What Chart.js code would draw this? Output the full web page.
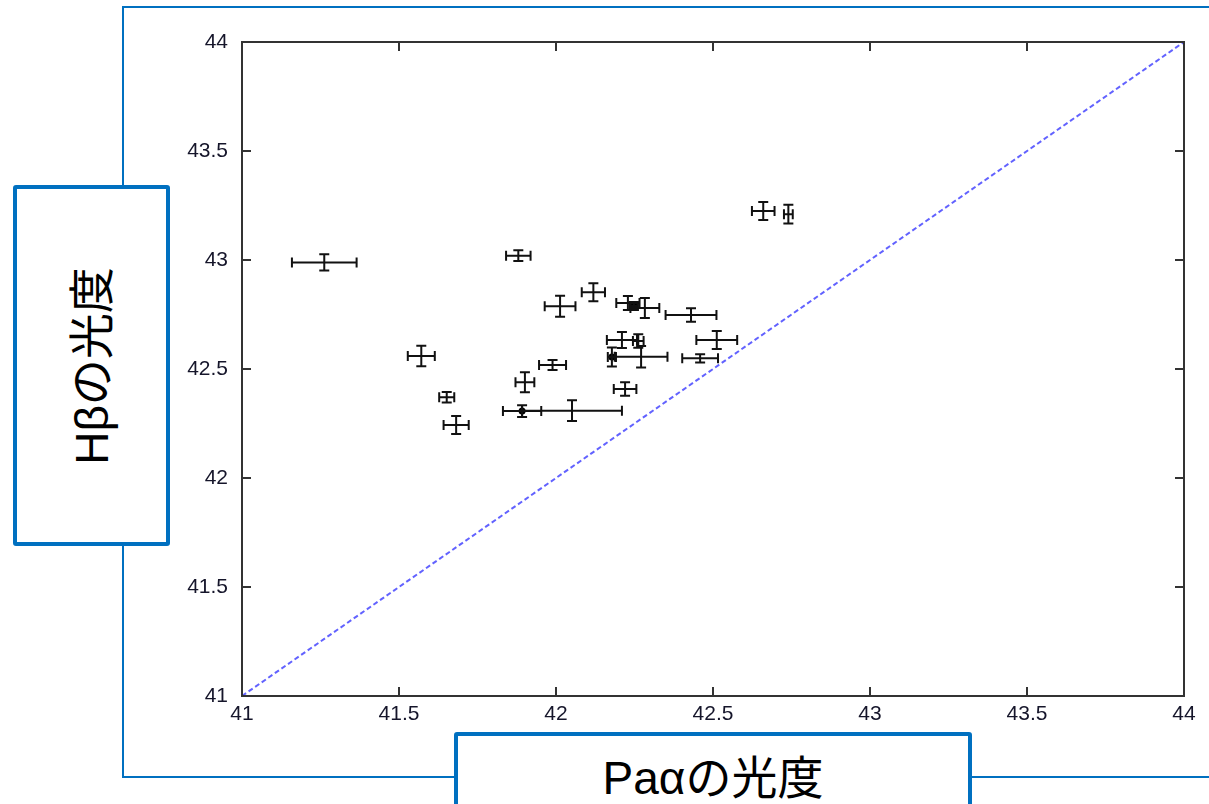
<!DOCTYPE html>
<html>
<head>
<meta charset="utf-8">
<script src="https://cdn.jsdelivr.net/npm/chart.js@4.4.1/dist/chart.umd.min.js"></script>
<style>
  html, body { margin: 0; padding: 0; background: #fff; }
  body { width: 1209px; height: 804px; overflow: hidden; position: relative; }
  #frame {
    position: absolute; left: 122px; top: 6px; width: 1200px; height: 768px;
    border: 2px solid #0070c0;
  }
  #chart { position: absolute; left: 0; top: 0; }
  .labelBox {
    position: absolute; box-sizing: border-box; background: #fff;
    border: 4px solid #0070c0; border-radius: 3px;
    font-family: "Liberation Sans", "Noto Sans CJK JP", sans-serif;
    font-size: 46px; color: #000;
  }
  #yLabel { left: 13px; top: 185px; width: 157px; height: 361px; }
  #yLabel span {
    position: absolute; left: 50%; top: 50%; white-space: nowrap;
    line-height: 46px; transform: translate(-50%, -50%) rotate(-90deg);
  }
  #xLabel { left: 454px; top: 732px; width: 518px; height: 120px; }
  #xLabel span {
    position: absolute; left: 0; right: 0; top: 19px; text-align: center;
    line-height: 46px; white-space: nowrap;
  }
</style>
</head>
<body>
<div id="frame"></div>
<canvas id="chart" width="1209" height="804"></canvas>
<div class="labelBox" id="yLabel"><span>Hβの光度</span></div>
<div class="labelBox" id="xLabel"><span>Paαの光度</span></div>

<script>
// Paα luminosity (x), Hβ luminosity (y) and their errors
const paAlpha  = [41.262, 41.880, 42.013, 41.571, 41.989, 41.901, 41.652, 41.682,
                  41.892, 42.051, 42.119, 42.229, 42.248, 42.283, 42.430, 42.210,
                  42.262, 42.512, 42.178, 42.271, 42.459, 42.220, 42.660, 42.740];
const hBeta    = [42.989, 43.020, 42.788, 42.560, 42.518, 42.439, 42.370, 42.243,
                  42.307, 42.309, 42.852, 42.803, 42.789, 42.780, 42.748, 42.633,
                  42.628, 42.633, 42.555, 42.556, 42.549, 42.408, 43.225, 43.210];
const paAlphaErr = [0.103, 0.039, 0.049, 0.043, 0.043, 0.030, 0.024, 0.040,
                    0.061, 0.159, 0.037, 0.037, 0.013, 0.046, 0.081, 0.048,
                    0.017, 0.065, 0.013, 0.084, 0.057, 0.036, 0.036, 0.014];
const hBetaErr   = [0.037, 0.025, 0.048, 0.047, 0.023, 0.046, 0.024, 0.041,
                    0.027, 0.048, 0.041, 0.032, 0.018, 0.046, 0.031, 0.037,
                    0.031, 0.041, 0.044, 0.049, 0.019, 0.031, 0.041, 0.043];
// points drawn with a solid marker
const filledPoints = [8, 12, 18];

// y = x reference line
const diagonal = [41, 44];

// axis range / ticks
const axisMin = 41;
const axisMax = 44;
const tickStep = 0.5;

const points = paAlpha.map((x, i) => ({ x: x, y: hBeta[i] }));

// Error bars through the scales
const errorBarPlugin = {
    id: 'errorBars',
    afterDatasetsDraw(chart) {
        const xs = chart.scales.x, ys = chart.scales.y;
        const ctx = chart.ctx;
        const cap = 5;
        ctx.save();
        ctx.strokeStyle = '#111';
        ctx.lineWidth = 2;
        paAlpha.forEach((xv, i) => {
            const px = xs.getPixelForValue(xv);
            const py = ys.getPixelForValue(hBeta[i]);
            const x0 = xs.getPixelForValue(xv - paAlphaErr[i]);
            const x1 = xs.getPixelForValue(xv + paAlphaErr[i]);
            const y0 = ys.getPixelForValue(hBeta[i] - hBetaErr[i]);
            const y1 = ys.getPixelForValue(hBeta[i] + hBetaErr[i]);
            ctx.beginPath();
            ctx.moveTo(x0, py); ctx.lineTo(x1, py);
            ctx.moveTo(x0, py - cap); ctx.lineTo(x0, py + cap);
            ctx.moveTo(x1, py - cap); ctx.lineTo(x1, py + cap);
            ctx.moveTo(px, y0); ctx.lineTo(px, y1);
            ctx.moveTo(px - cap, y0); ctx.lineTo(px + cap, y0);
            ctx.moveTo(px - cap, y1); ctx.lineTo(px + cap, y1);
            ctx.stroke();
        });
        ctx.restore();
    }
};

// gnuplot-like frame with inward ticks on all four sides
const framePlugin = {
    id: 'frameTicks',
    afterDraw(chart) {
        const { left, right, top, bottom } = chart.chartArea;
        const ctx = chart.ctx;
        const len = 9;
        ctx.save();
        ctx.strokeStyle = '#333';
        ctx.lineWidth = 2;
        ctx.strokeRect(left, top, right - left, bottom - top);
        ctx.beginPath();
        chart.scales.x.ticks.forEach(t => {
            const p = chart.scales.x.getPixelForValue(t.value);
            ctx.moveTo(p, bottom); ctx.lineTo(p, bottom - len);
            ctx.moveTo(p, top); ctx.lineTo(p, top + len);
        });
        chart.scales.y.ticks.forEach(t => {
            const p = chart.scales.y.getPixelForValue(t.value);
            ctx.moveTo(left, p); ctx.lineTo(left + len, p);
            ctx.moveTo(right, p); ctx.lineTo(right - len, p);
        });
        ctx.stroke();
        ctx.restore();
    }
};

const tickFont = { family: '"Liberation Sans", Arial, sans-serif', size: 21 };

new Chart(document.getElementById('chart'), {
    type: 'scatter',
    data: {
        datasets: [
            {
                label: 'Hβ vs Paα',
                data: points,
                pointRadius: ctx => filledPoints.includes(ctx.dataIndex) ? 3.5 : 0,
                pointBackgroundColor: '#000',
                pointBorderColor: '#000',
                pointBorderWidth: 0
            },
            {
                type: 'line',
                label: 'y = x',
                data: diagonal.map(v => ({ x: v, y: v })),
                borderColor: 'rgba(70, 70, 255, 0.85)',
                borderWidth: 2,
                borderDash: [5, 3],
                pointRadius: 0,
                fill: false
            }
        ]
    },
    options: {
        responsive: false,
        animation: false,
        devicePixelRatio: 1,
        layout: { padding: { top: 42, right: 25, left: 0, bottom: 0 } },
        plugins: {
            legend: { display: false },
            tooltip: { enabled: false }
        },
        scales: {
            x: {
                type: 'linear',
                min: axisMin,
                max: axisMax,
                grid: { display: false, drawTicks: false },
                border: { display: false },
                ticks: {
                    stepSize: tickStep,
                    padding: 6,
                    color: '#15152a',
                    font: tickFont,
                    maxRotation: 0,
                    callback: v => String(v)
                },
                afterFit: scale => { scale.height = 108; }
            },
            y: {
                type: 'linear',
                min: axisMin,
                max: axisMax,
                grid: { display: false, drawTicks: false },
                border: { display: false },
                ticks: {
                    stepSize: tickStep,
                    padding: 14,
                    color: '#15152a',
                    font: tickFont,
                    callback: v => String(v)
                },
                afterFit: scale => { scale.width = 242; }
            }
        }
    },
    plugins: [errorBarPlugin, framePlugin]
});
</script>
</body>
</html>
